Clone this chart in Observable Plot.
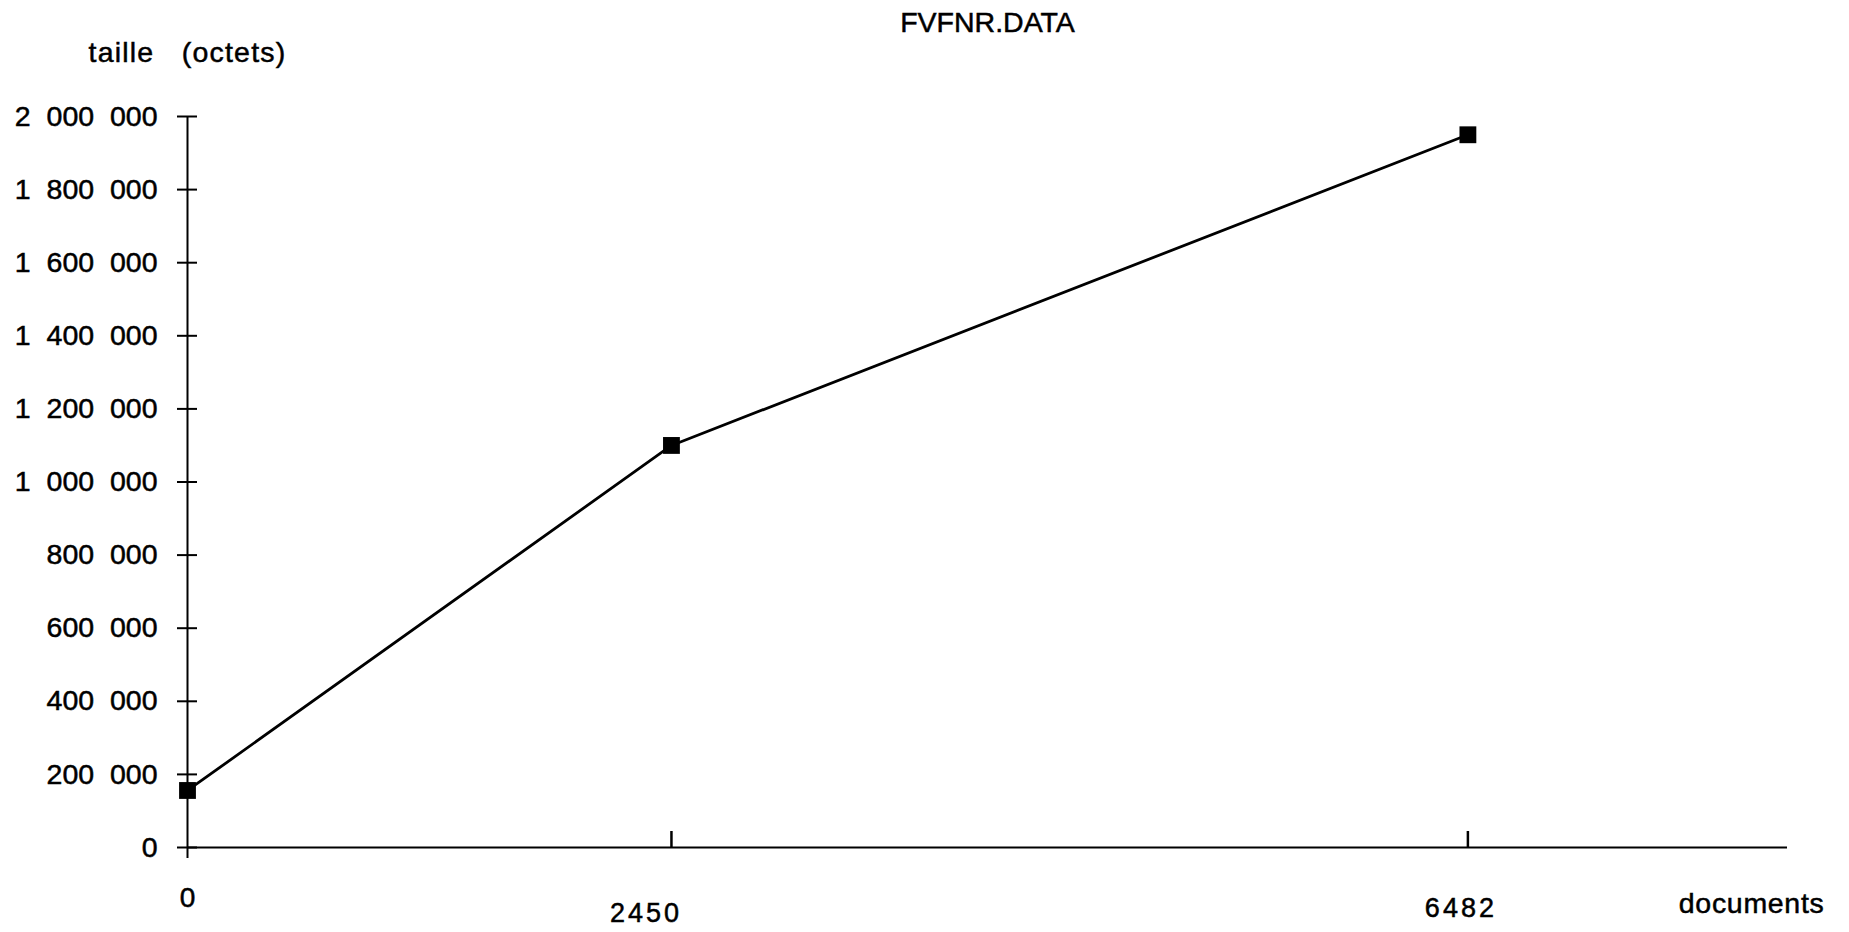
<!DOCTYPE html>
<html>
<head>
<meta charset="utf-8">
<script src="https://cdn.jsdelivr.net/npm/d3@7"></script>
<script src="https://cdn.jsdelivr.net/npm/@observablehq/plot@0.6"></script>
<style>
  html, body { margin: 0; padding: 0; background: #fff; }
  svg { display: block; }
  svg text { stroke: #000; stroke-width: 0.5px; }
</style>
</head>
<body>
<div id="chart"></div>
<script>
// ---- data ----
const documents = [0, 2450, 6482];
const tailles = [156000, 1100000, 1950000];

const yTickValues = [0, 200000, 400000, 600000, 800000, 1000000, 1200000, 1400000, 1600000, 1800000, 2000000];
const yTickLabels = ["0", "200\u00a0\u00a0000", "400\u00a0\u00a0000", "600\u00a0\u00a0000", "800\u00a0\u00a0000",
  "1\u00a0\u00a0000\u00a0\u00a0000", "1\u00a0\u00a0200\u00a0\u00a0000", "1\u00a0\u00a0400\u00a0\u00a0000",
  "1\u00a0\u00a0600\u00a0\u00a0000", "1\u00a0\u00a0800\u00a0\u00a0000", "2\u00a0\u00a0000\u00a0\u00a0000"];
const xTickValues = [0, 2450, 6482];
const xTickLabels = ["0", "2450", "6482"];

const chartTitle = "FVFNR.DATA";
const yTitle = "taille\u00a0\u00a0\u00a0(octets)";
const xTitle = "documents";

const points = documents.map((d, i) => ({documents: d, taille: tailles[i]}));
const xLabel = d => xTickLabels[xTickValues.indexOf(d)];

const chart = Plot.plot({
  width: 1849,
  height: 932,
  marginLeft: 187,
  marginRight: 62,
  marginTop: 116,
  marginBottom: 85,
  x: {domain: [0, 8100]},
  y: {domain: [0, 2000000]},
  style: {fontFamily: "'Liberation Sans', Arial, Helvetica, sans-serif", fontSize: "28px", color: "#000", background: "#fff"},
  marks: [
    Plot.ruleX([0], {stroke: "#000", strokeWidth: 2}),
    Plot.ruleY([0], {stroke: "#000", strokeWidth: 2}),
    Plot.axisY(yTickValues, {
      tickSize: 20, dx: 10, tickPadding: 20, strokeWidth: 2, fontSize: 28.5,
      tickFormat: d => yTickLabels[yTickValues.indexOf(d)], label: null
    }),
    Plot.axisX(xTickValues.slice(1), {anchor: "bottom", tickSize: 16, dy: -16, strokeWidth: 2.5, tickFormat: () => "", label: null}),
    Plot.axisX(xTickValues.slice(0, 1), {anchor: "bottom", tickSize: 11, strokeWidth: 2, tickFormat: () => "", label: null}),
    Plot.text(xTickValues.slice(0, 1), {x: d => d, frameAnchor: "bottom", lineAnchor: "middle", dy: 51, text: xLabel, fontSize: 28}),
    Plot.text(xTickValues.slice(1, 2), {x: d => d, frameAnchor: "bottom", lineAnchor: "middle", dy: 66, dx: -25.5, text: xLabel, fontSize: 27}),
    Plot.text(xTickValues.slice(2, 3), {x: d => d, frameAnchor: "bottom", lineAnchor: "middle", dy: 61, dx: -7, text: xLabel, fontSize: 27}),
    Plot.text([xTitle], {frameAnchor: "bottom-right", textAnchor: "end", lineAnchor: "middle", dx: 37, dy: 56, text: d => d, fontSize: 28.5}),
    Plot.text([yTitle], {frameAnchor: "top-left", textAnchor: "middle", lineAnchor: "middle", dy: -64, text: d => d, fontSize: 28.5}),
    Plot.text([chartTitle], {frameAnchor: "top", lineAnchor: "middle", dy: -94, text: d => d, fontSize: 28.5}),
    Plot.line(points, {x: "documents", y: "taille", stroke: "#000", strokeWidth: 2.8}),
    Plot.dot(points, {x: "documents", y: "taille", symbol: "square", r: 9.5, fill: "#000", stroke: "none"})
  ]
});
document.getElementById("chart").appendChild(chart);

// letter spacing tweaks to match the scanned typography
const spacing = new Map([[xTickLabels[1], "3px"], [xTickLabels[2], "3px"], [xTitle, "0.7px"], [yTitle, "1.2px"]]);
d3.select(chart).selectAll("text").each(function() {
  const t = this.textContent;
  if (spacing.has(t)) this.style.letterSpacing = spacing.get(t);
});
</script>
</body>
</html>
